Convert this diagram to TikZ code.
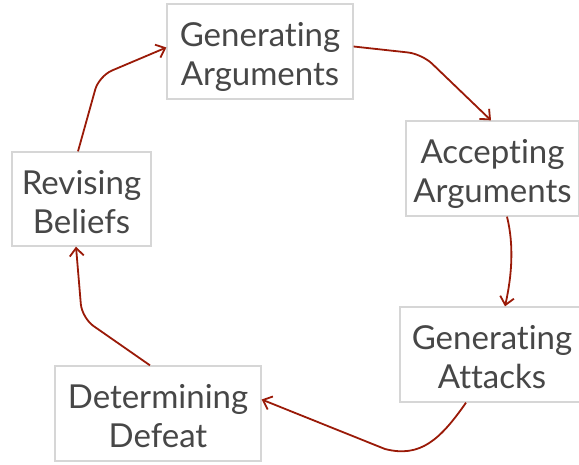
\documentclass[tikz,border=0pt]{standalone}
\usepackage{fontspec}
\setmainfont{Lato}[Ligatures={NoCommon}]
\usetikzlibrary{arrows.meta}
\definecolor{boxline}{HTML}{D6D6D6}
\definecolor{txt}{HTML}{474747}
\definecolor{arr}{HTML}{9A1A08}
\newcommand\stagetext[2]{\raisebox{-7pt}[\height][\depth]{\begin{tabular}{@{}c@{}}#1\\#2\end{tabular}}}
\tikzset{
  stage/.style={draw=boxline, line width=1.3pt, fill=white, text=txt, align=center,
    inner sep=0pt, font=\fontsize{33}{39}\selectfont},
  flow/.style={draw=arr, line width=1.8pt, rounded corners=14pt,
    -{Straight Barb[length=8pt,width=14pt,line width=1.8pt]}}
}
\begin{document}
\begin{tikzpicture}[x=1pt,y=-1pt]
\useasboundingbox (0,0) rectangle (579,464);
\clip (0,0) rectangle (579,464);
\node[stage, minimum width=186pt, minimum height=95pt] (ga) at (260,51.5) {\stagetext{Generating}{Arguments}};
\node[stage, minimum width=173pt, minimum height=95pt] (aa) at (492.5,168.5) {\stagetext{Accepting}{Arguments}};
\node[stage, minimum width=184pt, minimum height=95pt] (gat) at (492,354.5) {\stagetext{Generating}{Attacks}};
\node[stage, minimum width=206pt, minimum height=95pt] (dd) at (158,413.5) {\stagetext{Determining}{Defeat}};
\node[stage, minimum width=139pt, minimum height=94pt] (rb) at (81.5,199) {\stagetext{Revising}{Beliefs}};
\coordinate (c1) at (99,76);
\coordinate (c2) at (422,54);
\coordinate (c5) at (82,318);
\draw[flow] (rb.north -| 78,0) -- (c1) -- ([yshift=4pt]ga.west);
\draw[flow] ([yshift=5pt]ga.east) -- (c2) -- (aa.north -| 491,0);
\draw[flow, rounded corners=0pt] (aa.south -| 507,0) .. controls (514,245) and (512,275) .. (gat.north -| 505,0);
\draw[flow, rounded corners=0pt] (gat.south -| 466,0) .. controls (440,440) and (420,458) .. (385,449) -- ([yshift=14pt]dd.east);
\draw[flow] (dd.north -| 150,0) -- (c5) -- (rb.south -| 76,0);
\end{tikzpicture}
\end{document}
